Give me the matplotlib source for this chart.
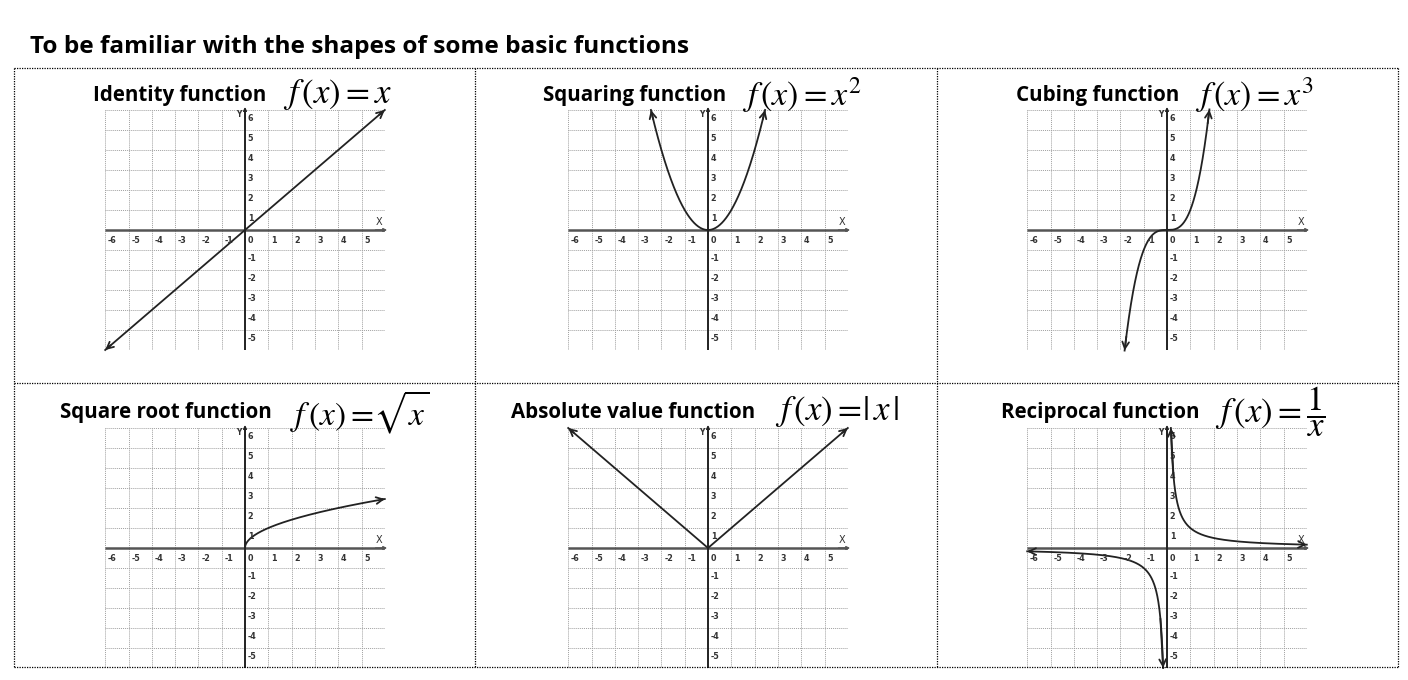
import numpy as np
import matplotlib
matplotlib.use("Agg")
import matplotlib.pyplot as plt
from matplotlib.lines import Line2D

plt.rcParams['mathtext.fontset'] = 'stix'

W, H = 1408, 680

# panel names and formulas (as shown)
names = ["Identity function", "Squaring function", "Cubing function",
         "Square root function", "Absolute value function", "Reciprocal function"]
formulas = [r"$f\,(x) = x$", r"$f\,(x) = x^{2}$", r"$f\,(x) = x^{3}$",
            r"$f\,(x) =\!\sqrt{x}$", r"$f\,(x) =\!|\,x\,|$", r"$f\,(x) = \dfrac{1}{x}$"]
form_size = [25, 24.5, 24.5, 24, 25, 25]

# x-range drawn for each curve (branches), arrow at ends flagged
domains = [
    [(-6.0, 6.0)],
    [(-2.45, 2.45)],
    [(-1.82, 1.82)],
    [(0.0, 6.0)],
    [(-6.0, 6.0)],
    [(-6.0, -1 / 6.0), (1 / 6.0, 6.0)],
]
arrows = [
    [(True, True)],
    [(True, True)],
    [(True, True)],
    [(False, True)],
    [(True, True)],
    [(True, True), (True, True)],
]
funcs = [lambda x: x, lambda x: x ** 2, lambda x: x ** 3,
         lambda x: np.sqrt(x), lambda x: np.abs(x), lambda x: 1 / x]

x_ticks = [-6, -5, -4, -3, -2, -1, 0, 1, 2, 3, 4, 5]
y_ticks = [6, 5, 4, 3, 2, 1, -1, -2, -3, -4, -5]

# text positions (pixels): name x, formula x, centre y
name_x = [93, 543, 1016, 60, 511, 1001]
form_x = [283, 742, 1195, 290, 775, 1215]
text_y = [96, 96, 96, 413, 413, 413]

yaxis_px = [245, 708, 1167]
xaxis_py = [230, 548]
ux, uy = 23.3, 20.0

fig = plt.figure(figsize=(W / 100, H / 100), dpi=100)

fig.text(30 / W, 1 - 47 / H, "To be familiar with the shapes of some basic functions",
         fontsize=17.6, fontweight='bold', family='Open Sans', va='center', ha='left')

# dotted table borders
for yy in [68, 383, 667]:
    fig.add_artist(Line2D([14 / W, 1398 / W], [1 - yy / H, 1 - yy / H], color='black',
                          lw=0.9, ls=(0, (1, 1))))
for xx in [14, 475, 937, 1398]:
    fig.add_artist(Line2D([xx / W, xx / W], [1 - 68 / H, 1 - 667 / H], color='black',
                          lw=0.9, ls=(0, (1, 1))))

for i in range(6):
    r, c = divmod(i, 3)
    ox, oy = yaxis_px[c], xaxis_py[r]
    left = (ox - 6 * ux) / W
    bottom = 1 - (oy + 6 * uy) / H
    ax = fig.add_axes([left, bottom, 12 * ux / W, 12 * uy / H])
    ax.set_xlim(-6, 6)
    ax.set_ylim(-6, 6)
    for s in ax.spines.values():
        s.set_visible(False)
    ax.set_xticks(range(-6, 7))
    ax.set_yticks(range(-6, 7))
    ax.tick_params(length=0, labelbottom=False, labelleft=False)
    ax.grid(True, color='#a0a0a0', lw=0.7, ls=(0, (1, 1)))

    # axes with arrows
    ax.plot([-6, 6], [0, 0], color='#555555', lw=1.8, solid_capstyle='butt')
    ax.plot([0, 0], [-6, 6], color='#222222', lw=1.4, solid_capstyle='butt')
    ax.annotate('', xy=(6.1, 0), xytext=(5.6, 0), annotation_clip=False,
                arrowprops=dict(arrowstyle='-|>', color='#555555', lw=1, mutation_scale=5,
                                shrinkA=0, shrinkB=0))
    ax.annotate('', xy=(0, 6.15), xytext=(0, 5.6), annotation_clip=False,
                arrowprops=dict(arrowstyle='-|>', color='#222222', lw=1, mutation_scale=5,
                                shrinkA=0, shrinkB=0))
    ax.text(5.75, 0.15, "X", fontsize=7, ha='center', va='bottom', color='#333333')
    ax.text(-0.15, 5.75, "Y", fontsize=5.5, ha='right', va='center', color='#333333',
            fontweight='bold')

    for t in x_ticks:
        ax.text(t + 0.12, -0.3, str(t), fontsize=5.8, fontweight='bold', ha='left', va='top',
                color='#333333')
    for t in y_ticks:
        ax.text(0.12, t - 0.2, str(t), fontsize=5.8, fontweight='bold', ha='left', va='top',
                color='#333333')

    # curves
    for (a, b), (sa, sb) in zip(domains[i], arrows[i]):
        xs = np.linspace(a, b, 400)
        ys = funcs[i](xs)
        ax.plot(xs, ys, color='#222222', lw=1.3, clip_on=False)
        ends = []
        if sa:
            ends.append((xs[0], ys[0], xs[8], ys[8]))
        if sb:
            ends.append((xs[-1], ys[-1], xs[-9], ys[-9]))
        for ex, ey, px, py in ends:
            ax.annotate('', xy=(ex, ey), xytext=(px, py), annotation_clip=False,
                        arrowprops=dict(arrowstyle='->', color='#222222', lw=1.3,
                                        mutation_scale=12, shrinkA=0, shrinkB=0))

    fig.text(name_x[i] / W, 1 - text_y[i] / H, names[i], fontsize=14.8, fontweight='bold',
             family='Open Sans', ha='left', va='center')
    fig.text(form_x[i] / W, 1 - (text_y[i] - 1) / H, formulas[i], fontsize=form_size[i],
             ha='left', va='center')

fig.savefig("out.png", dpi=100)
